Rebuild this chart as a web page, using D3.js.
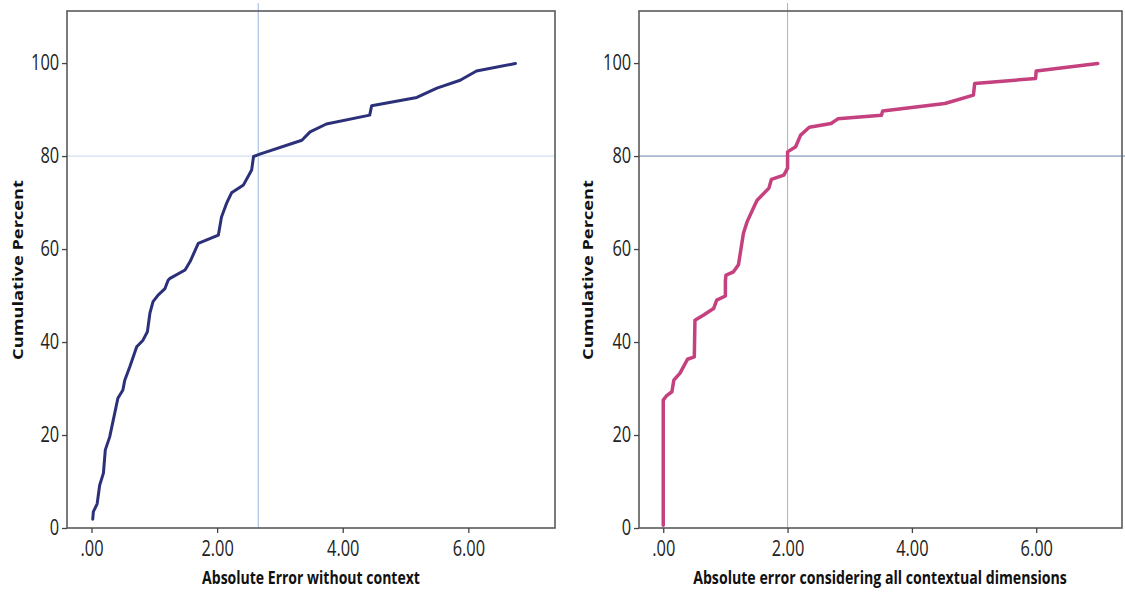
<!DOCTYPE html>
<html><head><meta charset="utf-8">
<script src="https://cdn.jsdelivr.net/npm/d3@7"></script>
<style>
body{margin:0;background:#fff;}
svg{display:block;}
.tick text{font-family:"Open Sans",sans-serif;font-size:21px;fill:#222;}
</style></head>
<body>
<svg id="c" width="1125" height="594"></svg>
<script>
// Left panel: Absolute Error without context
const leftX = [0.02,0.03,0.09,0.13,0.19,0.22,0.29,0.37,0.42,0.50,0.53,0.61,0.72,0.82,0.89,0.93,0.98,1.06,1.17,1.22,1.25,1.49,1.57,1.70,2.02,2.07,2.15,2.23,2.42,2.55,2.58,2.68,3.35,3.48,3.74,4.43,4.46,5.18,5.50,5.87,6.13,6.75];
const leftY = [1.9,3.5,5.2,9.2,11.8,16.8,19.6,24.7,27.9,29.7,31.8,34.7,39.0,40.4,42.2,46.2,48.7,50.1,51.5,53.3,53.7,55.5,57.3,61.2,63.0,66.9,69.8,72.1,73.8,77.0,79.9,80.4,83.4,85.2,86.9,88.8,90.8,92.6,94.6,96.3,98.3,99.9];
// Right panel: Absolute error considering all contextual dimensions
const rightX = [0,0,0.05,0.14,0.17,0.27,0.39,0.50,0.51,0.65,0.81,0.86,1.0,1.0,1.01,1.13,1.21,1.29,1.35,1.46,1.51,1.70,1.74,1.94,2.0,2.0,2.13,2.21,2.35,2.70,2.81,3.51,3.53,4.53,4.99,5.01,5.99,6.0,6.99];
const rightY = [0.6,27.5,28.4,29.3,31.8,33.3,36.3,36.8,44.7,45.8,47.2,49.0,49.9,53.3,54.4,55.1,56.6,63.4,65.9,69.1,70.5,73.1,75.0,75.9,77.4,80.9,82.0,84.5,86.2,87.0,88.0,88.8,89.7,91.3,93.1,95.6,96.7,98.3,99.9];
const xTicks = [0,2,4,6];
const xTickLabels = [".00","2.00","4.00","6.00"];
const yTicks = [0,20,40,60,80,100];
const refLeft = {x:2.655, y:80};
const refRight = {x:2.0, y:80};
const titles = ["Absolute Error without context","Absolute error considering all contextual dimensions"];
const yTitle = "Cumulative Percent";

const svg = d3.select("#c");

function panel(opts){
  const {x0,x1,xs,ys,color,width,ref,title,titleX,titleLen,yTitleX,vColor,hColor,hEnd} = opts;
  const x = d3.scaleLinear().domain([-0.39,7.38]).range([x0,x1]);
  const y = d3.scaleLinear().domain([0,111.2]).range([528,11]);
  const g = svg.append("g");
  // reference lines
  g.append("line").attr("x1",x(ref.x)).attr("x2",x(ref.x)).attr("y1",3).attr("y2",528)
    .attr("stroke",vColor).attr("stroke-width",1);
  g.append("line").attr("x1",x0).attr("x2",hEnd).attr("y1",y(ref.y)).attr("y2",y(ref.y))
    .attr("stroke",hColor).attr("stroke-width",1);
  // frame
  g.append("rect").attr("x",x0).attr("y",11).attr("width",x1-x0).attr("height",517)
    .attr("fill","none").attr("stroke","#5a5a5a").attr("stroke-width",1.6);
  // axes
  const xa = g.append("g").attr("transform","translate(0,528)")
    .call(d3.axisBottom(x).tickValues(xTicks).tickFormat((d,i)=>xTickLabels[i]).tickSize(5).tickPadding(8));
  xa.selectAll(".tick text").attr("transform","scale(0.78,1)");
  const ya = g.append("g").attr("transform",`translate(${x0},0)`)
    .call(d3.axisLeft(y).tickValues(yTicks).tickSize(5).tickPadding(2));
  ya.selectAll(".tick text").attr("x",-10).attr("transform","scale(0.78,1)");
  [xa,ya].forEach(a=>{a.select(".domain").remove();a.selectAll(".tick line").attr("stroke","#444").attr("stroke-width",1.3);});
  // line
  const data = xs.map((v,i)=>[v,ys[i]]);
  g.append("path").datum(data)
    .attr("d",d3.line().x(d=>x(d[0])).y(d=>y(d[1])))
    .attr("fill","none").attr("stroke",color).attr("stroke-width",width)
    .attr("stroke-linejoin","round").attr("stroke-linecap","round");
  // titles (horizontally condensed via scale to match the narrow original font)
  const tg = g.append("g");
  const t = tg.append("text").attr("x",0).attr("y",0).attr("text-anchor","middle")
    .style("font-family","'Open Sans',sans-serif").style("font-weight","bold")
    .style("font-size","18px").attr("fill","#111").text(title);
  const nat = t.node().getComputedTextLength();
  tg.attr("transform",`translate(${titleX},584) scale(${titleLen/nat},1)`);
  const yg = g.append("g");
  const yt = yg.append("text").attr("x",0).attr("y",0).attr("text-anchor","middle")
    .style("font-family","'Open Sans',sans-serif").style("font-weight","bold")
    .style("font-size","15px").attr("fill","#111").text(yTitle);
  const ynat = yt.node().getComputedTextLength();
  yg.attr("transform",`translate(${yTitleX},270) rotate(-90) scale(${180/ynat},1)`);
}

panel({x0:67,x1:555,xs:leftX,ys:leftY,color:"#2b3079",width:3,ref:refLeft,title:titles[0],titleX:311,titleLen:218,yTitleX:23,
  vColor:"#9db7dc",hColor:"#c9d6ea",hEnd:555});
panel({x0:639,x1:1122,xs:rightX,ys:rightY,color:"#c4407e",width:3.5,ref:refRight,title:titles[1],titleX:880,titleLen:374,yTitleX:593,
  vColor:"#9fb4d6",hColor:"#6684aa",hEnd:1125});
</script>
</body></html>
